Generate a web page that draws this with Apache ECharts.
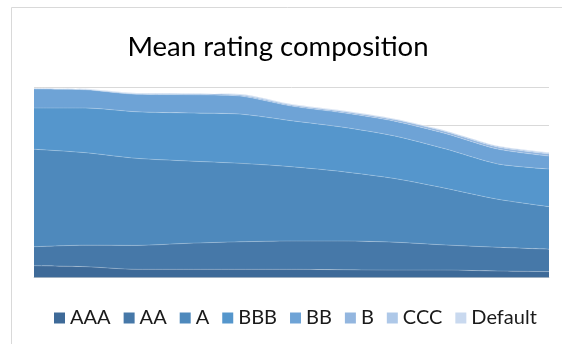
<!DOCTYPE html>
<html>
<head>
<meta charset="utf-8">
<script src="https://cdn.jsdelivr.net/npm/echarts@6/dist/echarts.min.js"></script>
<style>
  html, body { margin: 0; padding: 0; background: #ffffff; }
  #chart { width: 562px; height: 344px; }
</style>
</head>
<body>
<div id="chart"></div>
<script>
// Periods along the horizontal axis (labels are not shown)
const periods = ['1', '2', '3', '4', '5', '6', '7', '8', '9', '10', '11'];

// Share of each rating grade per period (%)
const ratingAAA     = [6.2, 5.7, 4.3, 4.3, 4.3, 4.3, 4.1, 3.9, 3.9, 3.4, 3.1];
const ratingAA      = [10.0, 11.3, 12.6, 13.7, 14.5, 14.9, 15.1, 14.7, 13.2, 12.5, 11.8];
const ratingA       = [51.3, 48.7, 45.8, 43.3, 41.3, 39.1, 36.5, 33.5, 29.8, 25.3, 22.4];
const ratingBBB     = [21.7, 23.5, 24.5, 25.3, 25.9, 24.2, 23.4, 22.4, 20.7, 18.6, 19.8];
const ratingBB      = [10.0, 9.6, 9.2, 9.6, 9.5, 7.7, 7.6, 7.8, 8.1, 7.8, 6.8];
const ratingB       = [0.3, 0.3, 0.4, 0.5, 0.6, 0.6, 0.7, 0.8, 1.0, 1.1, 1.2];
const ratingCCC     = [0.1, 0.1, 0.2, 0.2, 0.3, 0.3, 0.3, 0.3, 0.4, 0.5, 0.5];
const ratingDefault = [0.1, 0.1, 0.1, 0.1, 0.2, 0.2, 0.2, 0.2, 0.2, 0.2, 0.3];

const gradeNames = ['AAA', 'AA', 'A', 'BBB', 'BB', 'B', 'CCC', 'Default'];
const gradeValues = [ratingAAA, ratingAA, ratingA, ratingBBB, ratingBB, ratingB, ratingCCC, ratingDefault];
const gradeColors = ['#3e6a98', '#4678a8', '#4e89bc', '#5596cc', '#6ea3d6', '#93b6df', '#aec8e8', '#c9d9ef'];

const yTicksMax = 100;
const yTickStep = 20;

const chart = echarts.init(document.getElementById('chart'), null, { renderer: 'canvas' });

const series = gradeNames.map((name, i) => ({
  name: name,
  type: 'line',
  stack: 'total',
  data: gradeValues[i],
  smooth: 0.25,
  symbol: 'none',
  itemStyle: { color: gradeColors[i] },
  lineStyle: { width: 0.6, color: 'rgba(255,255,255,0.35)' },
  areaStyle: { color: gradeColors[i], opacity: 1 },
  emphasis: { disabled: true }
}));

chart.setOption({
  animation: false,
  backgroundColor: '#ffffff',
  title: {
    text: 'Mean rating composition',
    left: 273,
    textAlign: 'center',
    top: 28,
    textStyle: {
      fontFamily: 'Lato',
      fontWeight: 'normal',
      fontSize: 27.5,
      color: '#000000'
    }
  },
  legend: {
    data: gradeNames,
    left: 54,
    top: 308,
    padding: 0,
    itemWidth: 11,
    itemHeight: 11,
    itemGap: 13,
    icon: 'rect',
    textStyle: {
      fontFamily: 'Lato',
      fontSize: 20,
      color: '#1a1a1a'
    }
  },
  graphic: [{
    type: 'rect',
    shape: { x: 11.5, y: 7.5, width: 600, height: 400 },
    style: { fill: 'none', stroke: '#d9d9d9', lineWidth: 1 },
    silent: true,
    z: -10
  }],
  grid: {
    left: 34,
    right: 13,
    top: 87.5,
    bottom: 66.5,
    containLabel: false
  },
  xAxis: {
    type: 'category',
    data: periods,
    boundaryGap: false,
    axisLine: { show: true, lineStyle: { color: '#d9d9d9', width: 1 } },
    axisTick: { show: false },
    axisLabel: { show: false },
    splitLine: { show: false }
  },
  yAxis: {
    type: 'value',
    min: 0,
    max: yTicksMax,
    interval: yTickStep,
    axisLine: { show: false },
    axisTick: { show: false },
    axisLabel: { show: false },
    splitLine: { show: true, lineStyle: { color: '#d9d9d9', width: 1 } }
  },
  series: series
});
</script>
</body>
</html>
